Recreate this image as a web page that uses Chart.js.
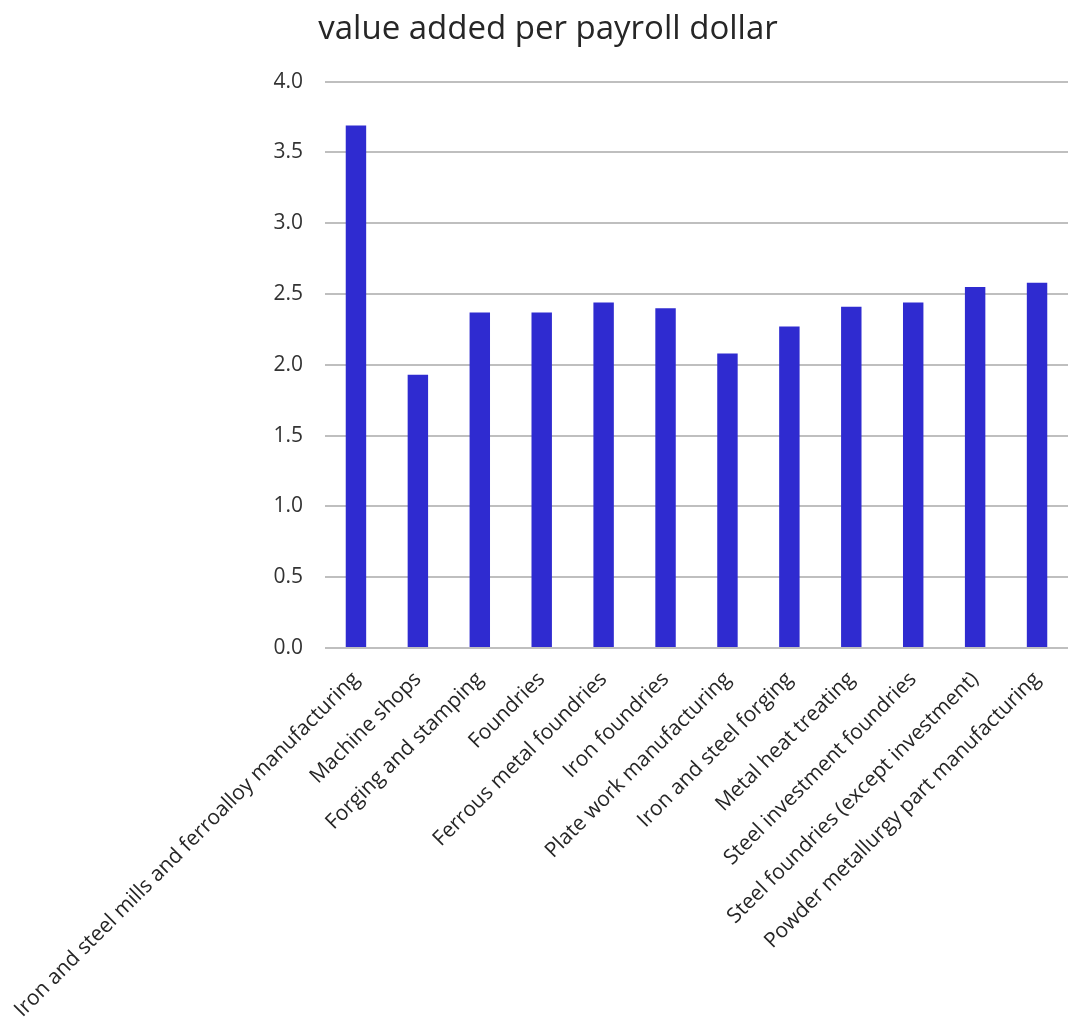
<!DOCTYPE html>
<html>
<head>
<meta charset="utf-8">
<script src="https://cdn.jsdelivr.net/npm/chart.js@4/dist/chart.umd.min.js"></script>
<style>
  html, body { margin: 0; padding: 0; background: #fff; }
  #wrap { width: 1081px; height: 1032px; }
</style>
</head>
<body>
<div id="wrap"><canvas id="chartCanvas" width="1081" height="1032"></canvas></div>
<script>
const categories = [
  "Iron and steel mills and ferroalloy manufacturing",
  "Machine shops",
  "Forging and stamping",
  "Foundries",
  "Ferrous metal foundries",
  "Iron foundries",
  "Plate work manufacturing",
  "Iron and steel forging",
  "Metal heat treating",
  "Steel investment foundries",
  "Steel foundries (except investment)",
  "Powder metallurgy part manufacturing"
];
const valuePerDollar = [3.69, 1.93, 2.37, 2.37, 2.44, 2.40, 2.08, 2.27, 2.41, 2.44, 2.55, 2.58];
const chartTitle = "value added per payroll dollar";

const ctx = document.getElementById("chartCanvas").getContext("2d");

new Chart(ctx, {
  type: "bar",
  data: {
    labels: categories,
    datasets: [{
      label: chartTitle,
      data: valuePerDollar,
      backgroundColor: "#2f2bd0",
      barPercentage: 0.33,
      categoryPercentage: 1.0,
    }],
  },
  options: {
    responsive: false,
    animation: false,
    devicePixelRatio: 1,
    layout: { padding: { left: 28, right: 13, top: 0, bottom: 0 } },
    plugins: {
      legend: { display: false },
      tooltip: { enabled: false },
      title: {
        display: true,
        text: chartTitle,
        color: "#262626",
        font: { family: "'Open Sans', sans-serif", size: 33, weight: "normal" },
        padding: { top: 10, bottom: 32 },
      },
    },
    scales: {
      y: {
        min: 0,
        max: 4,
        border: { display: false },
        grid: { color: "#bfbfbf", lineWidth: 2, drawTicks: false },
        ticks: {
          stepSize: 0.5,
          padding: 22,
          color: "#333333",
          font: { family: "'Open Sans', sans-serif", size: 21 },
          callback: v => v.toFixed(1),
        },
        afterFit: s => { s.width = 297; },
      },
      x: {
        border: { display: false },
        grid: { display: false, drawTicks: false },
        ticks: {
          minRotation: 45,
          maxRotation: 45,
          autoSkip: false,
          padding: 19,
          color: "#262626",
          font: { family: "'Open Sans', sans-serif", size: 21 },
        },
        // long rotated labels may hang past the y axis, keep plot edges fixed
        afterFit: s => { s.height = 384; s.paddingLeft = 0; s.paddingRight = 0; },
      },
    },
  },
});
</script>
</body>
</html>
